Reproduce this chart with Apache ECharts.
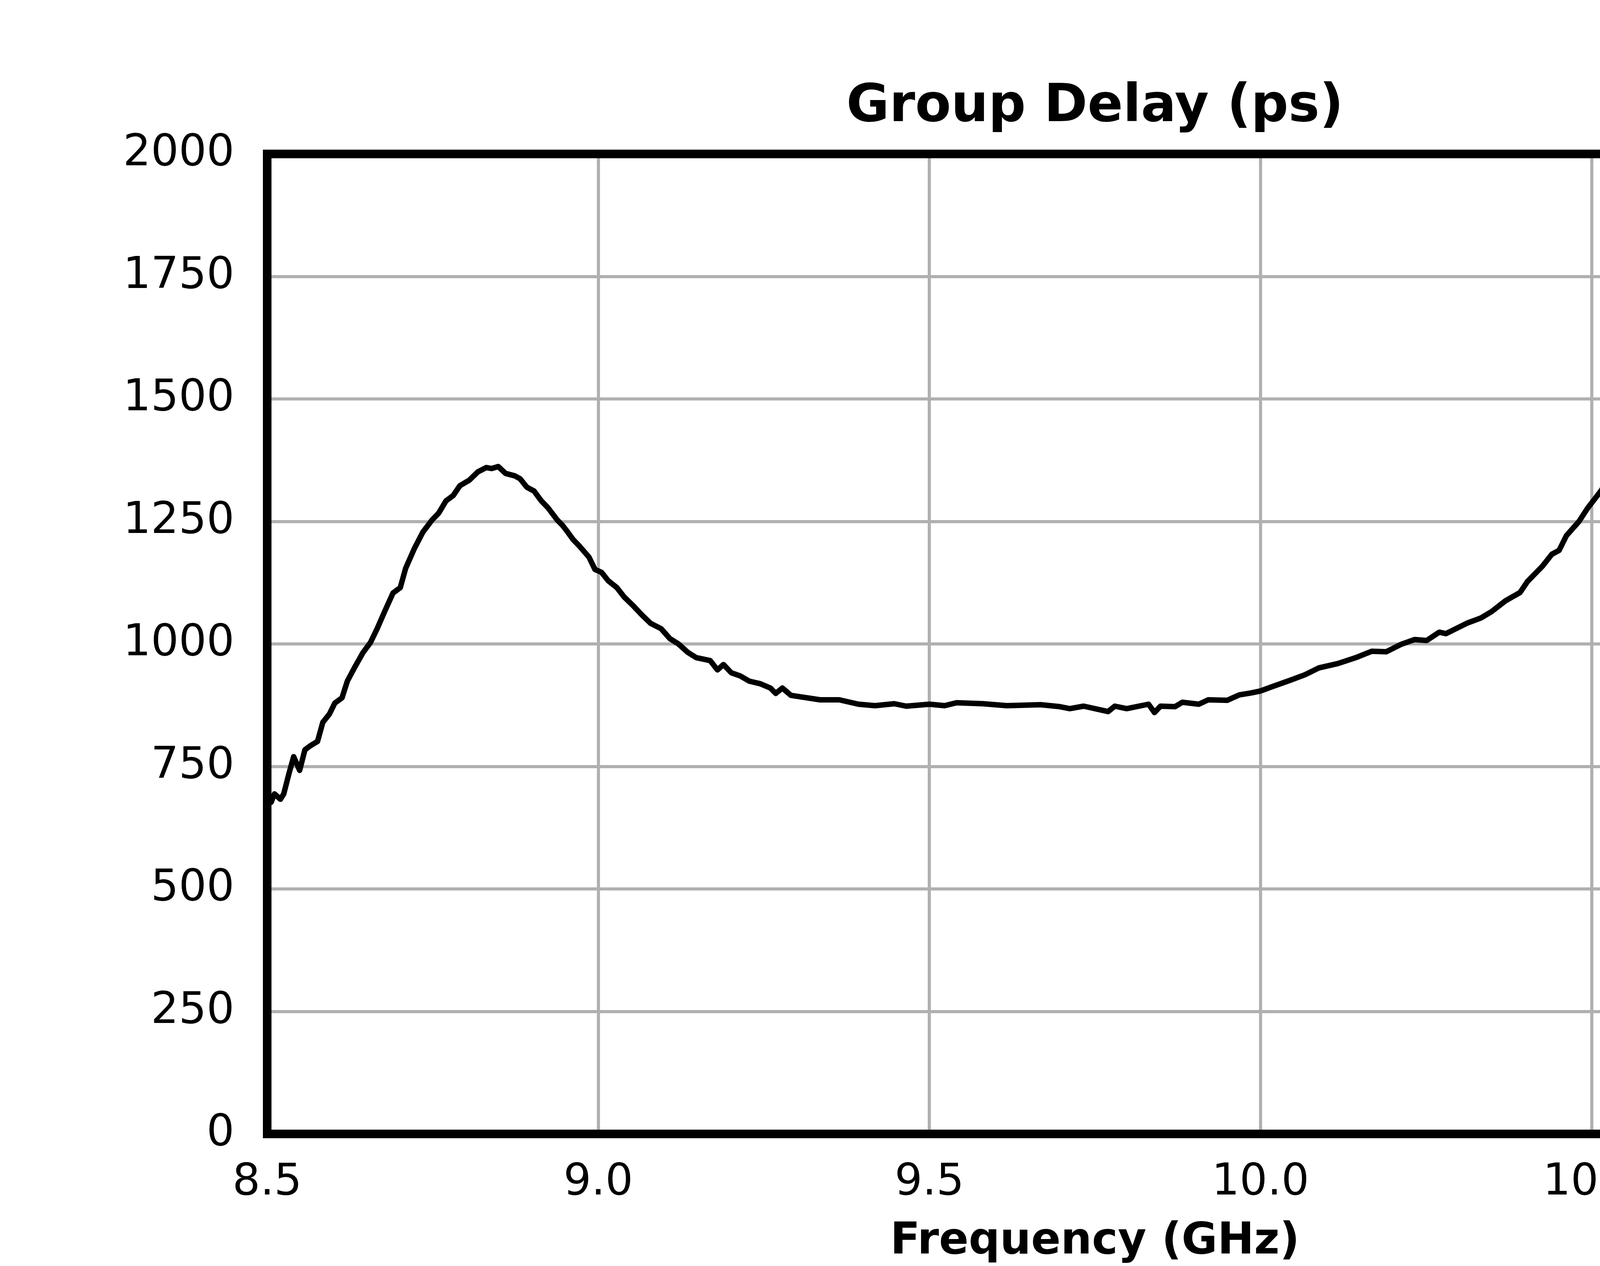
<!DOCTYPE html>
<html>
<head>
<meta charset="utf-8">
<script src="https://cdn.jsdelivr.net/npm/echarts@6/dist/echarts.min.js"></script>
<style>
html,body{margin:0;padding:0;background:#fff;}
#chart{width:5400px;height:3240px;}
</style>
</head>
<body>
<div id="chart"></div>
<script>
const titleText = 'Group Delay (ps)';
const xAxisName = 'Frequency (GHz)';
const xTicks = [8.5, 9.0, 9.5, 10.0, 10.5, 11.0];
const yTicks = [0, 250, 500, 750, 1000, 1250, 1500, 1750, 2000];

const freqGHz = [
8.500,8.506,8.511,8.520,8.525,8.533,8.540,8.549,8.557,8.565,8.576,8.584,8.594,8.602,8.613,8.621,8.632,8.645,8.656,8.666,
8.677,8.690,8.701,8.709,8.722,8.735,8.749,8.759,8.770,8.781,8.791,8.805,8.818,8.831,8.839,8.849,8.860,8.874,8.882,8.892,
8.903,8.914,8.924,8.938,8.946,8.954,8.962,8.972,8.986,8.995,9.005,9.015,9.028,9.039,9.052,9.066,9.079,9.095,9.108,9.121,
9.135,9.148,9.169,9.180,9.189,9.201,9.214,9.228,9.244,9.260,9.268,9.278,9.291,9.335,9.364,9.393,9.418,9.447,9.465,9.500,
9.523,9.541,9.581,9.617,9.668,9.697,9.712,9.733,9.770,9.780,9.798,9.831,9.840,9.849,9.871,9.882,9.907,9.921,9.950,9.968,
9.986,10.000,10.016,10.045,10.067,10.088,10.117,10.146,10.168,10.190,10.212,10.233,10.251,10.270,10.280,10.313,10.333,10.349,10.370,10.392,
10.403,10.426,10.440,10.451,10.462,10.481,10.494,10.506,10.515,10.527,10.540,10.559,10.575,10.591,10.609,10.623,10.634,10.645,10.655,10.666,
10.677,10.684,10.696,10.707,10.719,10.723,10.735,10.746,10.758,10.767,10.774,10.785,10.796,10.806,10.815,10.824,10.833,10.845,10.854,10.865,
10.874,10.886,10.890,10.896,10.909,10.915,10.925,10.936,10.947,10.957,10.966,10.975,10.984,10.993,11.000
];
const delayPs = [
680,677,694,683,694,736,770,742,784,792,801,840,857,879,890,924,952,983,1003,1031,
1065,1104,1115,1154,1194,1228,1253,1267,1292,1303,1323,1334,1351,1360,1358,1362,1348,1343,1337,1320,
1312,1292,1278,1253,1242,1228,1213,1199,1177,1152,1146,1129,1115,1096,1079,1059,1042,1031,1011,1000,
983,972,966,947,958,941,935,924,919,910,899,910,895,886,886,877,874,878,873,877,
874,880,878,874,876,872,868,873,862,873,868,877,860,873,872,881,877,886,885,896,
900,904,912,926,937,951,960,973,985,984,999,1009,1007,1024,1021,1043,1053,1066,1088,1105,
1127,1159,1183,1191,1221,1250,1277,1298,1314,1347,1379,1422,1456,1507,1572,1620,1656,1711,1746,1792,
1835,1864,1896,1913,1924,1923,1901,1862,1813,1760,1711,1631,1550,1470,1389,1304,1239,1153,1089,1025,
976,944,885,832,832,767,719,665,612,579,569,520,467,420,392
];

const seriesData = freqGHz.map((f, i) => [f, delayPs[i]]);
const FONT = 'DejaVu Sans';
const xMin = xTicks[0], xMax = xTicks[xTicks.length - 1];
const yMin = yTicks[0], yMax = yTicks[yTicks.length - 1];

const chart = echarts.init(document.getElementById('chart'), null, {renderer: 'canvas', width: 5400, height: 3240});
chart.setOption({
  animation: false,
  backgroundColor: '#ffffff',
  title: {
    text: titleText,
    left: 2803,
    top: 208,
    textAlign: 'center',
    padding: 0,
    textStyle: {fontFamily: FONT, fontWeight: 'bold', fontSize: 134, color: '#000', lineHeight: 134}
  },
  grid: {
    left: 684, right: 478, top: 394, bottom: 321,
    show: false,
    containLabel: false
  },
  xAxis: {
    type: 'value',
    min: xMin, max: xMax, interval: 0.5,
    name: xAxisName,
    nameLocation: 'middle',
    nameGap: 221,
    nameTextStyle: {fontFamily: FONT, fontWeight: 'bold', fontSize: 112, color: '#000', lineHeight: 112},
    axisLine: {show: false},
    axisTick: {show: false},
    axisLabel: {
      fontFamily: FONT, fontSize: 112, color: '#000', margin: 70, lineHeight: 112,
      formatter: v => Number(v).toFixed(1)
    },
    splitLine: {show: true, lineStyle: {color: '#b0b0b0', width: 8}}
  },
  yAxis: {
    type: 'value',
    min: yMin, max: yMax, interval: 250,
    axisLine: {show: false},
    axisTick: {show: false},
    axisLabel: {fontFamily: FONT, fontSize: 112, color: '#000', margin: 84, formatter: v => String(v)},
    splitLine: {show: true, lineStyle: {color: '#b0b0b0', width: 8}}
  },
  series: [{
    type: 'line',
    data: seriesData,
    showSymbol: false,
    symbol: 'none',
    smooth: false,
    clip: true,
    lineStyle: {color: '#000', width: 14, join: 'round', cap: 'butt'},
    z: 3
  }]
});

// frame (axes box) drawn on top, positioned from the axes' own scale
const pA = chart.convertToPixel({gridIndex: 0}, [xMin, yMax]);
const pB = chart.convertToPixel({gridIndex: 0}, [xMax, yMin]);
chart.setOption({
  graphic: [{
    type: 'rect',
    z: 100,
    silent: true,
    shape: {x: pA[0], y: pA[1], width: pB[0] - pA[0], height: pB[1] - pA[1]},
    style: {fill: null, stroke: '#000', lineWidth: 22}
  }]
});
</script>
</body>
</html>
